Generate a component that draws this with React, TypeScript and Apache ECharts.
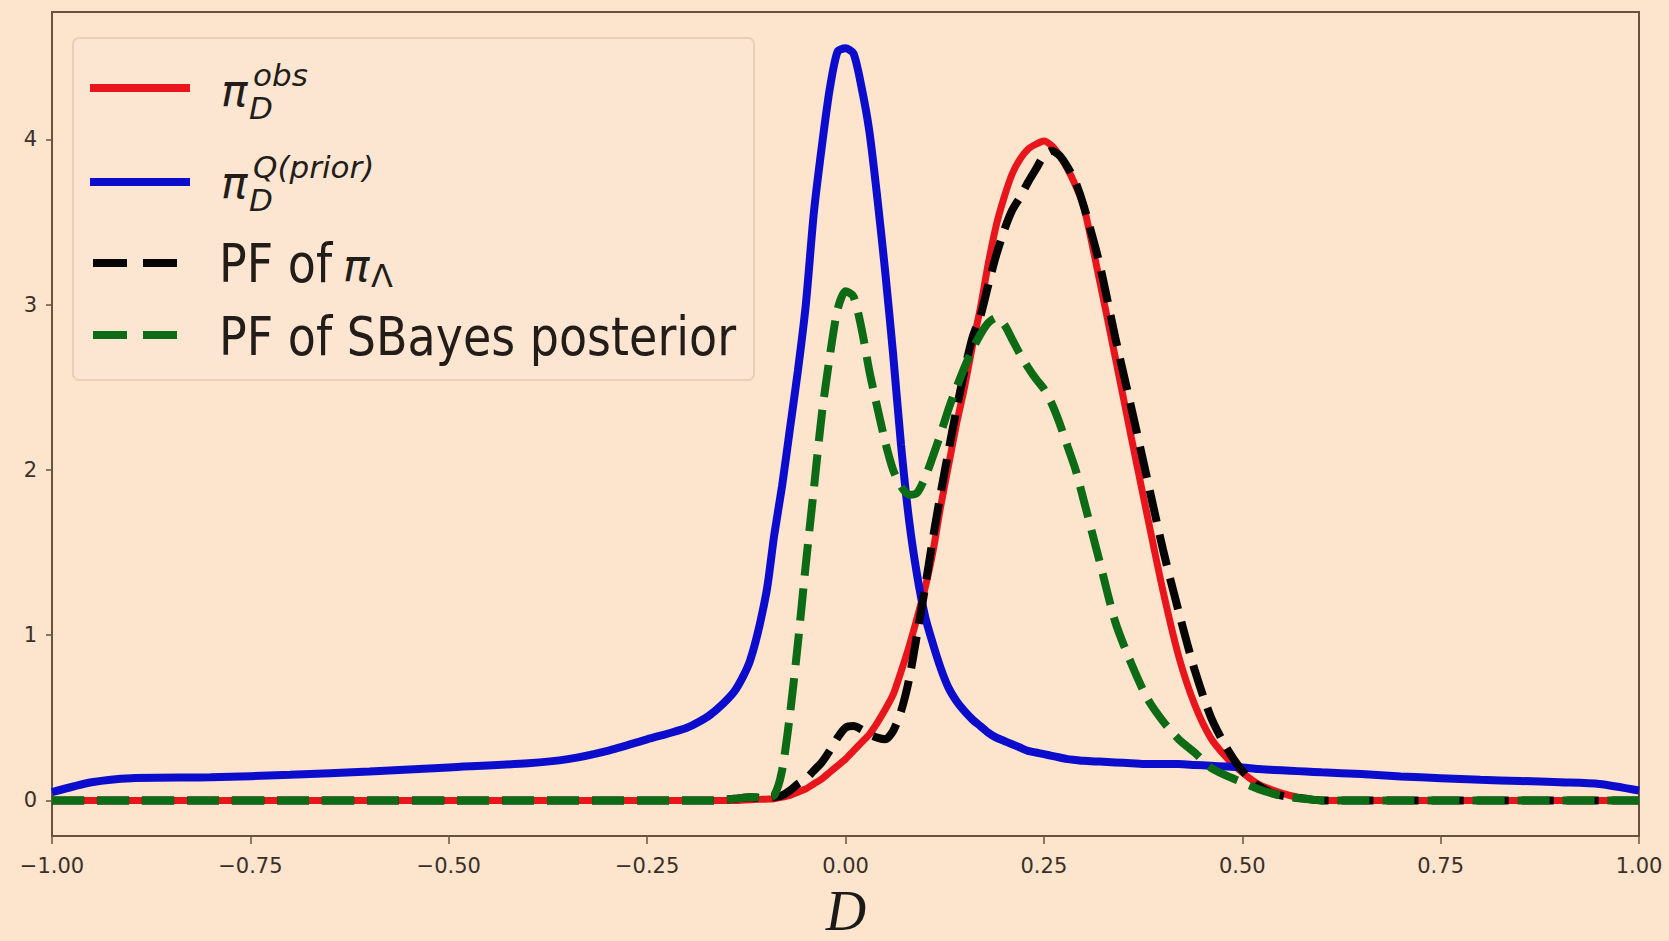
import React, { useEffect, useRef } from "react";
import * as echarts from "echarts";

// D values (x grid shared by all curves)
const xGrid = [
  -1, -0.95, -0.9, -0.8, -0.7, -0.6, -0.5, -0.4, -0.35, -0.3,
  -0.25, -0.2, -0.17, -0.14, -0.12, -0.1, -0.09, -0.08, -0.07, -0.06,
  -0.05, -0.04, -0.03, -0.02, -0.01, 0, 0.01, 0.02, 0.03, 0.04,
  0.05, 0.06, 0.07, 0.08, 0.09, 0.1, 0.11, 0.12, 0.13, 0.14,
  0.15, 0.16, 0.17, 0.18, 0.19, 0.2, 0.21, 0.22, 0.23, 0.24,
  0.25, 0.26, 0.27, 0.28, 0.29, 0.3, 0.32, 0.34, 0.36, 0.38,
  0.4, 0.42, 0.44, 0.46, 0.48, 0.5, 0.52, 0.54, 0.56, 0.58,
  0.6, 0.65, 0.7, 0.75, 0.8, 0.85, 0.9, 0.95, 1.0,
];

// pi_D^obs (red)
const obsDensity = [
  0, 0, 0, 0, 0, 0, 0, 0, 0, 0,
  0, 0, 0, 0, 0.005, 0.008, 0.01, 0.02, 0.03, 0.05,
  0.07, 0.1, 0.13, 0.17, 0.21, 0.25, 0.3, 0.35, 0.4, 0.47,
  0.55, 0.64, 0.78, 0.93, 1.1, 1.28, 1.5, 1.78, 2.03, 2.28,
  2.5, 2.75, 2.98, 3.25, 3.48, 3.65, 3.79, 3.88, 3.94, 3.97,
  3.99, 3.96, 3.9, 3.82, 3.72, 3.6, 3.15, 2.68, 2.2, 1.73,
  1.27, 0.87, 0.58, 0.38, 0.26, 0.17, 0.1, 0.06, 0.03, 0.01,
  0, 0, 0, 0, 0, 0, 0, 0, 0,
];

// pi_D^{Q(prior)} (blue)
const priorDensity = [
  0.05, 0.11, 0.135, 0.14, 0.155, 0.175, 0.2, 0.225, 0.25, 0.3,
  0.37, 0.44, 0.52, 0.66, 0.85, 1.25, 1.6, 1.9, 2.25, 2.6,
  3.0, 3.55, 3.95, 4.3, 4.53, 4.55, 4.52, 4.32, 4.05, 3.65,
  3.2, 2.7, 2.15, 1.7, 1.37, 1.12, 0.95, 0.8, 0.68, 0.6,
  0.54, 0.49, 0.45, 0.41, 0.38, 0.36, 0.34, 0.32, 0.3, 0.29,
  0.28, 0.27, 0.26, 0.25, 0.245, 0.24, 0.235, 0.23, 0.225, 0.22,
  0.22, 0.22, 0.215, 0.21, 0.205, 0.2, 0.19, 0.185, 0.18, 0.175,
  0.17, 0.16, 0.145, 0.135, 0.125, 0.118, 0.11, 0.1, 0.06,
];

// PF of pi_Lambda (black dashed)
const pfLambda = [
  0, 0, 0, 0, 0, 0, 0, 0, 0, 0,
  0, 0, 0, 0.01, 0.02, 0.01, 0.02, 0.03, 0.06, 0.1,
  0.13, 0.18, 0.23, 0.3, 0.38, 0.44, 0.45, 0.43, 0.4, 0.38,
  0.37, 0.42, 0.54, 0.73, 1.0, 1.28, 1.58, 1.86, 2.12, 2.37,
  2.6, 2.8, 2.93, 3.12, 3.3, 3.45, 3.57, 3.65, 3.74, 3.82,
  3.9, 3.93, 3.9, 3.83, 3.74, 3.6, 3.25, 2.8, 2.38, 1.95,
  1.52, 1.14, 0.79, 0.51, 0.32, 0.18, 0.09, 0.04, 0.02, 0.01,
  0, 0, 0, 0, 0, 0, 0, 0, 0,
];

// PF of SBayes posterior (green dashed)
const pfSBayes = [
  0, 0, 0, 0, 0, 0, 0, 0, 0, 0,
  0, 0, 0, 0.01, 0.02, 0.02, 0.03, 0.18, 0.52, 0.95,
  1.43, 1.88, 2.33, 2.68, 2.97, 3.08, 3.05, 2.86, 2.6, 2.38,
  2.17, 2.0, 1.9, 1.85, 1.86, 1.95, 2.08, 2.22, 2.37, 2.5,
  2.62, 2.73, 2.82, 2.89, 2.92, 2.88, 2.79, 2.7, 2.62, 2.55,
  2.49, 2.4, 2.28, 2.14, 2.0, 1.82, 1.45, 1.08, 0.83, 0.62,
  0.48, 0.37, 0.29, 0.2, 0.15, 0.11, 0.07, 0.04, 0.02, 0.01,
  0, 0, 0, 0, 0, 0, 0, 0, 0,
];

const yTicks = [0, 1, 2, 3, 4];
const legendPlain = ["PF of ", "PF of SBayes posterior"];

const BG = "#fce4cd";
const SPINE = "#67533f";
const TICK = "#3a2f27";
const TXT = "#221d19";
const RED = "#e8151c";
const BLUE = "#0c0ccc";
const BLACK = "#050505";
const GREEN = "#0c6b14";
const DASH = [32, 13];

const pairs = (ys: number[]) => xGrid.map((x, i) => [x, ys[i]]);

const txt = (
  text: string,
  x: number,
  y: number,
  size: number,
  opts: { italic?: boolean; sy?: number; family?: string; align?: string; color?: string } = {}
) => ({
  type: "text",
  x,
  y,
  scaleY: opts.sy ?? 1,
  z: 102,
  style: {
    text,
    x: 0,
    y: 0,
    fontSize: size,
    fontFamily: opts.family ?? "DejaVu Sans",
    fontStyle: opts.italic ? "italic" : "normal",
    fill: opts.color ?? TXT,
    align: opts.align ?? "left",
    verticalAlign: "middle",
  },
});

const sample = (y: number, color: string, dash?: number[]) => ({
  type: "line",
  z: 102,
  shape: { x1: dash ? 93 : 90, y1: y, x2: dash ? 177 : 190, y2: y },
  style: { stroke: color, lineWidth: 8, lineDash: dash ?? null },
});

export default function App() {
  const ref = useRef<HTMLDivElement>(null);
  useEffect(() => {
    document.body.style.margin = "0";
    document.body.style.background = BG;
    const chart = echarts.init(ref.current!, null, { renderer: "svg" });
    const line = (name: string, ys: number[], color: string, width: number, dash?: number[]) => ({
      type: "line",
      name,
      data: pairs(ys),
      showSymbol: false,
      symbol: "none",
      smooth: 0.25,
      clip: true,
      lineStyle: { color, width, type: dash ?? "solid" },
    });
    chart.setOption({
      animation: false,
      backgroundColor: BG,
      grid: {
        left: 52,
        right: 30,
        top: 12,
        bottom: 105,
        show: true,
        borderColor: SPINE,
        borderWidth: 2,
        backgroundColor: "transparent",
        outerBoundsMode: "none",
      },
      xAxis: {
        type: "value",
        min: -1,
        max: 1,
        interval: 0.25,
        axisLine: { show: true, onZero: false, lineStyle: { color: SPINE, width: 2 } },
        axisTick: { show: true, length: 8, lineStyle: { color: SPINE, width: 1.5 } },
        axisLabel: {
          margin: 19,
          fontSize: 21,
          fontFamily: "DejaVu Sans",
          color: TICK,
          formatter: (v: number) => (v < -1e-9 ? "\u2212" : "") + Math.abs(v).toFixed(2),
        },
        splitLine: { show: false },
      },
      yAxis: {
        type: "value",
        min: -0.215,
        max: 4.77,
        axisLine: { show: true, onZero: false, lineStyle: { color: SPINE, width: 2 } },
        axisTick: { show: true, length: 6, customValues: yTicks, lineStyle: { color: SPINE, width: 1.5 } },
        axisLabel: {
          margin: 15,
          fontSize: 21,
          fontFamily: "DejaVu Sans",
          color: TICK,
          customValues: yTicks,
          formatter: (v: number) => String(Math.round(v)),
        },
        splitLine: { show: false },
      },
      series: [
        line("obs", obsDensity, RED, 7),
        line("prior", priorDensity, BLUE, 8),
        line("PF of pi_Lambda", pfLambda, BLACK, 8, DASH),
        line("PF of SBayes posterior", pfSBayes, GREEN, 8, DASH),
      ],
      graphic: [
        {
          type: "rect",
          z: 100,
          shape: { x: 73, y: 38, width: 681, height: 342, r: 6 },
          style: { fill: "#fde6d1", stroke: "#e8cfb8", lineWidth: 2 },
        },
        sample(88, RED),
        sample(182, BLUE),
        sample(263, BLACK, [34, 16]),
        sample(335, GREEN, [34, 16]),
        // row 1: pi_D^obs
        txt("\u03c0", 221, 90.5, 44, { italic: true }),
        txt("obs", 253, 74.5, 31, { italic: true }),
        txt("D", 249, 107.5, 31, { italic: true }),
        // row 2: pi_D^{Q(prior)}
        txt("\u03c0", 221, 182.5, 44, { italic: true }),
        txt("Q(prior)", 253, 166.5, 31, { italic: true }),
        txt("D", 249, 199.5, 31, { italic: true }),
        // row 3: PF of pi_Lambda
        txt(legendPlain[0], 219, 263.7, 46, { sy: 1.15 }),
        txt("\u03c0", 343, 265.5, 44, { italic: true }),
        txt("\u039b", 371, 276, 32),
        // row 4
        txt(legendPlain[1], 219, 336.7, 46, { sy: 1.15 }),
        // x axis label
        txt("D", 846, 911, 56, { italic: true, family: "Liberation Serif", align: "center", color: "#1a1a1a" }),
      ],
    });
    return () => chart.dispose();
  }, []);
  return <div ref={ref} style={{ width: 1669, height: 941 }} />;
}
